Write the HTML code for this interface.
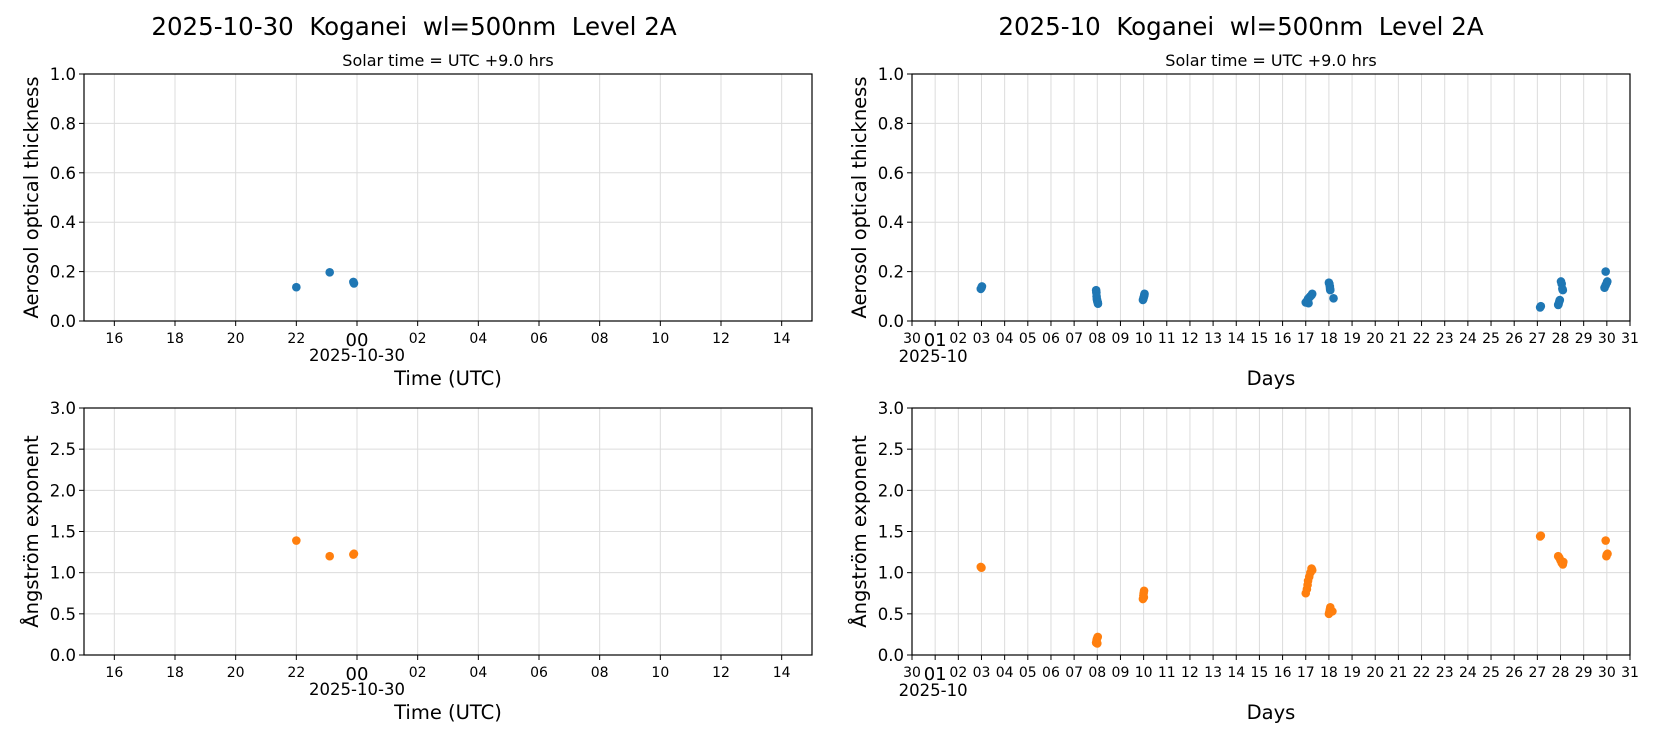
<!DOCTYPE html>
<html><head><meta charset="utf-8">
<style>
html,body{margin:0;padding:0;background:#fff;}
svg{display:block;font-family:"DejaVu Sans","Liberation Sans",sans-serif;}
text{white-space:pre;}
</style></head>
<body>
<svg id="fig" width="1654" height="737" viewBox="0 0 1654 737" xmlns="http://www.w3.org/2000/svg">
<text x="414" y="35" font-size="24.5" text-anchor="middle" xml:space="preserve">2025-10-30  Koganei  wl=500nm  Level 2A</text>
<text x="1241" y="35" font-size="24.5" text-anchor="middle" xml:space="preserve">2025-10  Koganei  wl=500nm  Level 2A</text>
<text x="448" y="66" font-size="16" text-anchor="middle">Solar time = UTC +9.0 hrs</text>
<text x="1271" y="66" font-size="16" text-anchor="middle">Solar time = UTC +9.0 hrs</text>
<g id="plots"></g>
</svg>
<script>
// Left (daily) data: hours since 2025-10-29 15:00 UTC
const dayHours = [7.0, 8.1, 8.88, 8.9];
const dayAot = [0.137, 0.197, 0.158, 0.152];
const dayAngHours = [7.0, 8.1, 8.88, 8.9];
const dayAng = [1.39, 1.20, 1.22, 1.23];
const dayTickLabels = ["16","18","20","22","00","02","04","06","08","10","12","14"];
// Right (monthly) data: days since 2025-09-30 00:00 UTC
const monAotDays = [2.97,3.0,3.02, 7.95,7.96,7.97,7.98,7.99,8.0,8.02,8.03, 9.97,9.99,10.0,10.02,10.03,10.04, 17.0,17.05,17.08,17.1,17.15,17.2,17.25,17.28,17.12, 18.0,18.02,18.04,18.05,18.06,18.2, 27.12,27.15, 27.9,27.92,27.95,27.97,28.02,28.05,28.08,28.1, 29.95,29.9,29.95,30.0,30.02];
const monAot = [0.13,0.135,0.14, 0.125,0.115,0.1,0.09,0.085,0.08,0.075,0.07, 0.085,0.09,0.095,0.1,0.105,0.11, 0.075,0.08,0.085,0.09,0.095,0.1,0.105,0.11,0.072, 0.155,0.15,0.14,0.13,0.125,0.092, 0.055,0.06, 0.065,0.07,0.08,0.085,0.16,0.15,0.13,0.125, 0.2,0.135,0.145,0.155,0.16];
const monAngDays = [2.97,3.0, 7.95,7.97,7.99,8.02,8.0, 9.97,9.99,10.0,10.02,10.01, 17.0,17.05,17.08,17.1,17.15,17.2,17.25,17.28, 18.0,18.02,18.04,18.06,18.15, 27.12,27.15, 27.9,27.95,28.0,28.05,28.1,28.12, 29.95,30.0,29.98,30.03];
const monAng = [1.07,1.06, 0.15,0.18,0.2,0.22,0.14, 0.68,0.72,0.75,0.78,0.7, 0.75,0.8,0.85,0.9,0.95,1.0,1.05,1.03, 0.5,0.52,0.55,0.58,0.53, 1.44,1.45, 1.2,1.18,1.15,1.12,1.1,1.13, 1.39,1.22,1.2,1.23];
const monTickLabels = ["30","01","02","03","04","05","06","07","08","09","10","11","12","13","14","15","16","17","18","19","20","21","22","23","24","25","26","27","28","29","30","31"];
const aotTicks = [0,0.2,0.4,0.6,0.8,1.0];
const angTicks = [0,0.5,1.0,1.5,2.0,2.5,3.0];

const NS="http://www.w3.org/2000/svg";
const root=document.getElementById('plots');
function mk(tag,attrs,parent){const e=document.createElementNS(NS,tag);for(const k in attrs)e.setAttribute(k,attrs[k]);(parent||root).appendChild(e);return e;}

function panel(name,x0,x1,y0,y1,xmax,ymax,yTicks,xTickVals,xTickLabels,xs,ys,color,ylabel,isDay){
  const g=mk('g',{});
  
  
  const sx=v=>x0+(x1-x0)*v/xmax, sy=v=>y1-(y1-y0)*v/ymax;
  xTickVals.forEach((v,i)=>{
    const l=mk('line',{x1:sx(v),x2:sx(v),y1:y0,y2:y1,stroke:'#dcdcdc','stroke-width':1},g);
    
    
  });
  yTicks.forEach(v=>{
    const l=mk('line',{x1:x0,x2:x1,y1:sy(v),y2:sy(v),stroke:'#dcdcdc','stroke-width':1},g);
    
    
    mk('line',{x1:x0-5,x2:x0,y1:sy(v),y2:sy(v),stroke:'#000','stroke-width':1},g);
    const t=mk('text',{x:x0-8,y:sy(v)+6,'font-size':16.5,'text-anchor':'end'},g);
    t.textContent=v.toFixed(1);
    
    
  });
  xTickVals.forEach((v,i)=>{
    mk('line',{x1:sx(v),x2:sx(v),y1:y1,y2:y1+5,stroke:'#000','stroke-width':1},g);
    const lab=xTickLabels[i];
    const big=(isDay&&lab==="00")||(!isDay&&i===1);
    const t=mk('text',{x:sx(v),y:y1+(big?25:22),'font-size':big?18:14,'text-anchor':'middle'},g);
    t.textContent=lab;
    
    
  });
  xs.forEach((xv,i)=>{
    const c=mk('circle',{cx:sx(xv),cy:sy(ys[i]),r:4.3,fill:color},g);
    
    
  });
  const r=mk('rect',{x:x0,y:y0,width:x1-x0,height:y1-y0,fill:'none',stroke:'#000','stroke-width':1.2},g);
  
  
  const yl=mk('text',{x:0,y:0,'font-size':19.5,'text-anchor':'middle',transform:`translate(${x0-46},${(y0+y1)/2}) rotate(-90)`},g);
  yl.textContent=ylabel;
  
  
  if(isDay){
    const d=mk('text',{x:sx(9),y:y1+40,'font-size':16.5,'text-anchor':'middle'},g);
    d.textContent='2025-10-30';
    
    
    const xl=mk('text',{x:(x0+x1)/2,y:y1+64,'font-size':19.5,'text-anchor':'middle'},g);
    xl.textContent='Time (UTC)';
    
    
  } else {
    const d=mk('text',{x:sx(1)-2,y:y1+41,'font-size':16.5,'text-anchor':'middle'},g);
    d.textContent='2025-10';
    
    
    const xl=mk('text',{x:(x0+x1)/2,y:y1+64,'font-size':19.5,'text-anchor':'middle'},g);
    xl.textContent='Days';
    
    
  }
}
const dayTickVals=dayTickLabels.map((_,i)=>1+2*i);
const monTickVals=monTickLabels.map((_,i)=>i);
panel('aot-daily-chart',84,812,74,321,24,1.0,aotTicks,dayTickVals,dayTickLabels,dayHours,dayAot,'#1f77b4','Aerosol optical thickness',true);
panel('angstrom-daily-chart',84,812,408,655,24,3.0,angTicks,dayTickVals,dayTickLabels,dayAngHours,dayAng,'#ff7f0e','Ångström exponent',true);
panel('aot-monthly-chart',912,1630,74,321,31,1.0,aotTicks,monTickVals,monTickLabels,monAotDays,monAot,'#1f77b4','Aerosol optical thickness',false);
panel('angstrom-monthly-chart',912,1630,408,655,31,3.0,angTicks,monTickVals,monTickLabels,monAngDays,monAng,'#ff7f0e','Ångström exponent',false);
</script>
</body></html>
